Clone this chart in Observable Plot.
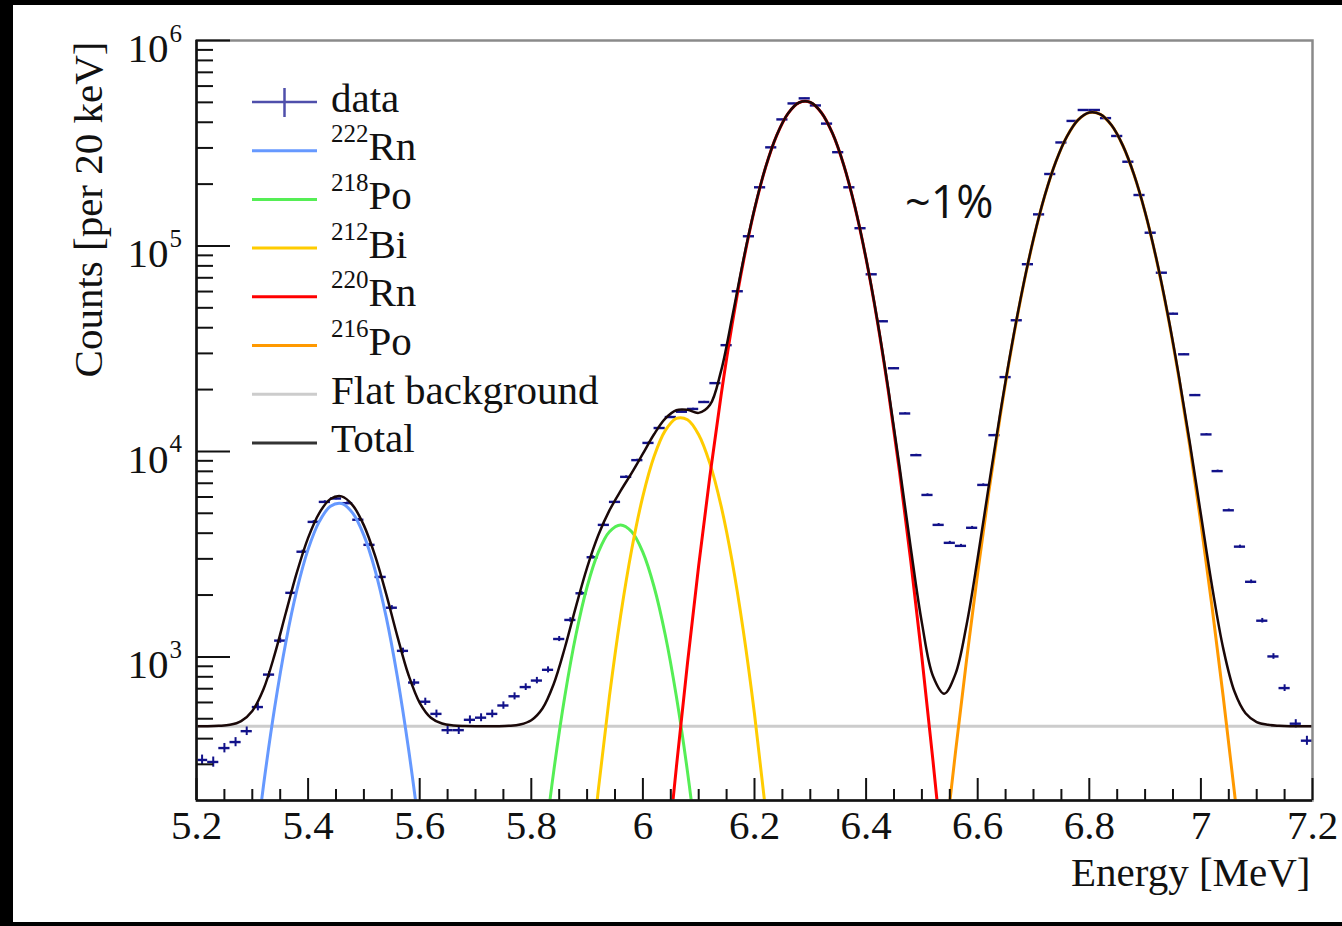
<!DOCTYPE html>
<html>
<head>
<meta charset="utf-8">
<script src="https://cdn.jsdelivr.net/npm/d3@7"></script>
<script src="https://cdn.jsdelivr.net/npm/@observablehq/plot@0.6"></script>
<style>
  html, body { margin: 0; padding: 0; background: #fff; width: 1342px; height: 926px; overflow: hidden; }
  #wrap { position: relative; width: 1342px; height: 926px; }
  #chart { position: absolute; left: 0; top: 0; }
  .band { position: absolute; background: #000; }
  #legend { position: absolute; left: 0; top: 0; pointer-events: none; }
</style>
</head>
<body>
<div id="wrap">
  <div id="chart"></div>
  <svg id="legend" width="1342" height="926"></svg>
  <div class="band" style="left:0;top:0;width:1342px;height:5px"></div>
  <div class="band" style="left:0;top:0;width:13px;height:926px"></div>
  <div class="band" style="left:0;top:922px;width:1342px;height:4px"></div>
</div>
<script>
// ---------------- data ----------------
const dataEnergy = [5.21,5.23,5.25,5.27,5.29,5.31,5.33,5.35,5.37,5.39,
  5.41,5.43,5.45,5.47,5.49,5.51,5.53,5.55,5.57,5.59,
  5.61,5.63,5.65,5.67,5.69,5.71,5.73,5.75,5.77,5.79,
  5.81,5.83,5.85,5.87,5.89,5.91,5.93,5.95,5.97,5.99,
  6.01,6.03,6.05,6.07,6.09,6.11,6.13,6.15,6.17,6.19,
  6.21,6.23,6.25,6.27,6.29,6.31,6.33,6.35,6.37,6.39,
  6.41,6.43,6.45,6.47,6.49,6.51,6.53,6.55,6.57,6.59,
  6.61,6.63,6.65,6.67,6.69,6.71,6.73,6.75,6.77,6.79,
  6.81,6.83,6.85,6.87,6.89,6.91,6.93,6.95,6.97,6.99,
  7.01,7.03,7.05,7.07,7.09,7.11,7.13,7.15,7.17,7.19];
const dataCounts = [315,308,360,385,435,570,820,1200,2050,3250,
  4540,5680,5900,5600,4650,3510,2450,1735,1070,750,
  605,528,440,440,494,506,528,580,643,713,
  767,865,1222,1513,2040,3055,4390,5680,7520,9070,
  11000,13000,14700,15600,16100,17400,21500,32900,60200,111500,
  193000,302000,413000,494000,523000,483000,394000,286000,193000,122000,
  72800,43000,25400,15300,9590,6140,4390,3590,3470,4250,
  6870,12000,23000,43500,81500,142500,224000,319000,406000,459000,
  459000,419000,343000,257000,177000,116000,74100,46800,29700,18800,
  12100,8020,5170,3440,2320,1500,1005,705,473,391];
const binHalfWidth = 0.01;

const rn222Energy = [5.30,5.32,5.34,5.36,5.38,5.40,5.42,5.44,5.46,5.48,5.50,5.52,5.54,5.56,5.58,5.60,5.62];
const rn222Counts = [86,236,565,1175,2123,3336,4554,5408,5581,5006,3905,2647,1561,799,356,138,46];

const po218Energy = [5.82,5.84,5.86,5.88,5.90,5.92,5.94,5.96,5.98,6.00,6.02,6.04,6.06,6.08,6.10];
const po218Counts = [101,275,641,1281,2195,3224,4061,4385,4061,3224,2195,1281,641,275,101];

const bi212Energy = [5.90,5.92,5.94,5.96,5.98,6.00,6.02,6.04,6.06,6.08,6.10,6.12,6.14,6.16,6.18,6.20,6.22,6.24];
const bi212Counts = [67,224,642,1582,3342,6061,9441,12618,14477,14260,12053,8746,5448,2913,1337,527,178,52];

const rn220Energy = [6.04,6.06,6.08,6.10,6.12,6.14,6.16,6.18,6.20,6.22,6.24,6.26,6.28,6.30,6.32,6.34,6.36,6.38,6.40,6.42,6.44,6.46,6.48,6.50,6.52,6.54];
const rn220Counts = [84,291,938,2787,7565,18670,41670,83660,150500,242000,346600,441100,498600,500100,445000,351800,247100,154600,86370,43260,19490,7935,2936,993,309,89];

const po216Energy = [6.54,6.56,6.58,6.60,6.62,6.64,6.66,6.68,6.70,6.72,6.74,6.76,6.78,6.80,6.82,6.84,6.86,6.88,6.90,6.92,6.94,6.96,6.98,7.00,7.02,7.04,7.06,7.08];
const po216Counts = [113,340,965,2568,6377,14675,31150,60650,107900,174700,256700,341400,410600,445700,436700,386100,308300,222600,145700,86600,46960,23280,10620,4470,1748,640,220,72];

const flatBackground = 460;

const totalEnergy = [5.20,5.22,5.24,5.26,5.28,5.30,5.32,5.34,5.36,5.38,
  5.40,5.42,5.44,5.46,5.48,5.50,5.52,5.54,5.56,5.58,
  5.60,5.62,5.64,5.66,5.68,5.70,5.72,5.74,5.76,5.78,
  5.80,5.82,5.84,5.86,5.88,5.90,5.92,5.94,5.96,5.98,
  6.00,6.02,6.04,6.06,6.08,6.10,6.12,6.14,6.16,6.18,
  6.20,6.22,6.24,6.26,6.28,6.30,6.32,6.34,6.36,6.38,
  6.40,6.42,6.44,6.46,6.48,6.50,6.52,6.54,6.56,6.58,
  6.60,6.62,6.64,6.66,6.68,6.70,6.72,6.74,6.76,6.78,
  6.80,6.82,6.84,6.86,6.88,6.90,6.92,6.94,6.96,6.98,
  7.00,7.02,7.04,7.06,7.08,7.10,7.12,7.14,7.16,7.18,7.20];
const totalCounts = [460,460,462,467,487,546,696,1025,1635,2583,
  3796,5014,5868,6041,5466,4365,3107,2021,1259,816,
  598,506,474,464,461,460,460,460,462,469,
  492,561,736,1105,1758,2722,3908,5163,6427,7863,
  9750,12118,14443,15869,15933,15401,16803,24587,45043,85457,
  151490,242640,347110,441570,499060,500560,445460,352260,247560,155060,
  86830,43720,19950,8395,3399,1464,805,662,824,1430,
  3029,6837,15135,31610,61110,108360,175160,257160,341860,411060,
  446160,437160,386560,308760,223060,146160,87060,47420,23740,11080,
  4930,2208,1100,680,532,482,467,462,460,460,460];

const xMajorTicks = [5.2,5.4,5.6,5.8,6.0,6.2,6.4,6.6,6.8,7.0,7.2];
const xTickLabels = ["5.2","5.4","5.6","5.8","6","6.2","6.4","6.6","6.8","7","7.2"];
const xMinorTicks = [5.25,5.3,5.35,5.45,5.5,5.55,5.65,5.7,5.75,5.85,5.9,5.95,6.05,6.1,6.15,
  6.25,6.3,6.35,6.45,6.5,6.55,6.65,6.7,6.75,6.85,6.9,6.95,7.05,7.1,7.15];
const yMajorTicks = [1e3,1e4,1e5,1e6];
const yTickExponents = ["3","4","5","6"];
const yMinorTicks = [300,400,500,600,700,800,900,
  2000,3000,4000,5000,6000,7000,8000,9000,
  20000,30000,40000,50000,60000,70000,80000,90000,
  200000,300000,400000,500000,600000,700000,800000,900000];

const xTitle = "Energy [MeV]";
const yTitle = "Counts [per 20 keV]";
const annotation = [{label: "~1%", energy: 6.549, counts: 161000}];

const colors = {
  data: "#12128a", dataLegend: "#4f4fab",
  rn222: "#6699ff", po218: "#55ee55", bi212: "#ffcc00",
  rn220: "#ff0000", po216: "#ff9900", flat: "#cccccc", total: "#1a0808", totalLegend: "#333333"
};
const legendItems = [
  {sup: "", name: "data", color: colors.dataLegend, kind: "data"},
  {sup: "222", name: "Rn", color: colors.rn222},
  {sup: "218", name: "Po", color: colors.po218},
  {sup: "212", name: "Bi", color: colors.bi212},
  {sup: "220", name: "Rn", color: colors.rn220},
  {sup: "216", name: "Po", color: colors.po216},
  {sup: "", name: "Flat background", color: colors.flat},
  {sup: "", name: "Total", color: colors.totalLegend}
];

// ---------------- build tables ----------------
const rows = (E, V) => E.map((e, i) => ({e, v: V[i]}));
const dataRows = rows(dataEnergy, dataCounts);
const serif = "'Liberation Serif', 'Times New Roman', Times, serif";

const W = 1342, H = 926;
const mL = 196, mR = 30, mT = 40, mB = 126;
const frameW = W - mL - mR, frameH = H - mT - mB;

const curve = (E, V, color, w) => Plot.line(rows(E, V), {x: "e", y: "v", stroke: color, strokeWidth: w, curve: "catmull-rom", clip: true});

const chart = Plot.plot({
  width: W, height: H,
  marginLeft: mL, marginRight: mR, marginTop: mT, marginBottom: mB,
  x: {domain: [5.2, 7.2], axis: null},
  y: {type: "log", domain: [200, 1e6], axis: null},
  style: {fontFamily: serif, background: "transparent", overflow: "visible"},
  marks: [
    Plot.ruleY([flatBackground], {stroke: colors.flat, strokeWidth: 3}),
    // data points with error bars
    Plot.ruleX(dataRows, {x: "e", y1: d => d.v - Math.sqrt(d.v), y2: d => d.v + Math.sqrt(d.v), stroke: colors.data, strokeWidth: 2, clip: true}),
    Plot.ruleY(dataRows, {y: "v", x1: d => d.e - binHalfWidth, x2: d => d.e + binHalfWidth, stroke: colors.data, strokeWidth: 2.4, clip: true}),
    // fit components
    curve(rn222Energy, rn222Counts, colors.rn222, 3),
    curve(po218Energy, po218Counts, colors.po218, 3),
    curve(bi212Energy, bi212Counts, colors.bi212, 3),
    curve(rn220Energy, rn220Counts, colors.rn220, 3),
    curve(po216Energy, po216Counts, colors.po216, 3),
    curve(totalEnergy, totalCounts, colors.total, 2.5),
    // frame and axes
    Plot.frame({stroke: "#8a8a8a", strokeWidth: 2.5}),
    Plot.ruleX([5.2], {stroke: "#111", strokeWidth: 2.5}),
    Plot.ruleY([200], {stroke: "#111", strokeWidth: 2.5}),
    Plot.tickX(xMajorTicks, {x: d => d, insetTop: frameH - 22, stroke: "#111", strokeWidth: 2}),
    Plot.tickX(xMinorTicks, {x: d => d, insetTop: frameH - 11, stroke: "#111", strokeWidth: 2}),
    Plot.tickY(yMajorTicks, {y: d => d, insetRight: frameW - 34, stroke: "#111", strokeWidth: 2}),
    Plot.tickY(yMinorTicks, {y: d => d, insetRight: frameW - 17, stroke: "#111", strokeWidth: 2}),
    Plot.text(xMajorTicks, {x: d => d, text: (d, i) => xTickLabels[i], frameAnchor: "bottom", dy: 38, fontSize: 41, fontFamily: serif, fill: "#111"}),
    Plot.text(yMajorTicks, {y: d => d, text: () => "10", frameAnchor: "left", textAnchor: "end", dx: -28, dy: 8, fontSize: 41, fontFamily: serif, fill: "#111"}),
    Plot.text(yMajorTicks, {y: d => d, text: (d, i) => yTickExponents[i], frameAnchor: "left", textAnchor: "start", dx: -27, dy: -7, fontSize: 25, fontFamily: serif, fill: "#111"}),
    Plot.text([xTitle], {text: d => d, frameAnchor: "bottom-right", textAnchor: "end", dx: -2, dy: 85, fontSize: 41, fontFamily: serif, fill: "#111"}),
    Plot.text([yTitle], {text: d => d, frameAnchor: "top-left", textAnchor: "end", rotate: -90, dx: -124, dy: 1, fontSize: 41, fontFamily: serif, fill: "#111"}),
    Plot.text(annotation, {x: "energy", y: "counts", text: "label", fontSize: 45, fontFamily: "'Open Sans', 'Noto Sans', sans-serif", fill: "#111"})
  ]
});
document.getElementById("chart").append(chart);

// ---------------- legend ----------------
const lg = d3.select("#legend");
const rowY0 = 102, rowStep = 48.7;
legendItems.forEach((it, i) => {
  const y = rowY0 + i * rowStep;
  lg.append("line").attr("x1", 252).attr("x2", 317).attr("y1", y).attr("y2", y)
    .attr("stroke", it.color).attr("stroke-width", it.kind === "data" ? 2.5 : 3);
  if (it.kind === "data") {
    lg.append("line").attr("x1", 284.5).attr("x2", 284.5).attr("y1", y - 14).attr("y2", y + 15)
      .attr("stroke", it.color).attr("stroke-width", 2.5);
  }
  const t = lg.append("text").attr("x", 331).attr("y", y + 9.5)
    .attr("font-family", serif).attr("font-size", 41).attr("fill", "#111");
  if (it.sup) {
    t.append("tspan").attr("font-size", 25).attr("dy", -18).text(it.sup);
    t.append("tspan").attr("dy", 18).text(it.name);
  } else {
    t.text(it.name);
  }
});
</script>
</body>
</html>
